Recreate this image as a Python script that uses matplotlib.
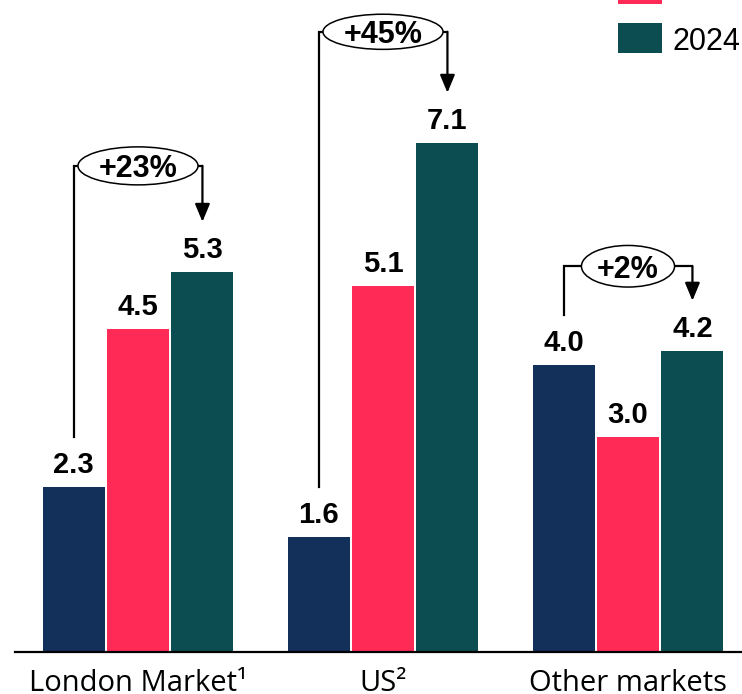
import matplotlib
matplotlib.use("Agg")
import matplotlib.pyplot as plt
from matplotlib.patches import Ellipse, Rectangle
import numpy as np

# ---- data -------------------------------------------------------------
categories = ["London Market\u00b9", "US\u00b2", "Other markets"]
years = ["2020", "2023", "2024"]
values_2020 = [2.3, 1.6, 4.0]
values_2023 = [4.5, 5.1, 3.0]
values_2024 = [5.3, 7.1, 4.2]
growth_labels = ["+23%", "+45%", "+2%"]

# ---- styling / layout -------------------------------------------------
colors = ["#13305B", "#FF2A55", "#0C4D52"]
bracket_levels = [6.78, 8.65, 5.38]       # height of each growth bracket
ellipse_w = [0.49, 0.49, 0.38]
ellipse_h = [0.53, 0.49, 0.58]
gap = 0.7                                  # space between bar top and bracket end

W, H, DPI = 742, 694, 100
fig = plt.figure(figsize=(W / DPI, H / DPI), dpi=DPI)
ax_left, ax_bottom = 15 / W, (H - 652) / H
ax = fig.add_axes([ax_left, ax_bottom, 1 - ax_left, 717 / H])

series = [values_2020, values_2023, values_2024]
x = np.arange(len(categories))
step, width = 0.263, 0.253
offsets = [-step, 0, step]

for vals, off, col, yr in zip(series, offsets, colors, years):
    ax.bar(x + off, vals, width=width, color=col, label=yr, zorder=2)
    for xi, v in zip(x, vals):
        ax.annotate(f"{v:.1f}", (xi + off, v), xytext=(0, 6),
                    textcoords="offset points", ha="center", va="bottom",
                    fontsize=21, fontweight="bold", family="Liberation Sans",
                    color="black")

# growth brackets: left start above first bar, arrow into last bar
for i in range(len(categories)):
    xa, xb = x[i] + offsets[0], x[i] + offsets[2]
    lvl = bracket_levels[i]
    ax.plot([xa, xa, xb], [values_2020[i] + gap, lvl, lvl],
            color="black", lw=1.6, zorder=3, solid_joinstyle="miter")
    ax.annotate("", xy=(xb, values_2024[i] + gap), xytext=(xb, lvl),
                arrowprops=dict(arrowstyle="-|>,head_length=0.6,head_width=0.25",
                                mutation_scale=18, color="black", lw=1.6,
                                shrinkA=0, shrinkB=0), zorder=3)
    ax.add_patch(Ellipse((x[i], lvl), ellipse_w[i], ellipse_h[i],
                         facecolor="white", edgecolor="black", lw=1.1, zorder=4))
    ax.text(x[i], lvl, growth_labels[i], ha="center", va="center_baseline",
            fontsize=22, fontweight="bold", family="Liberation Sans", zorder=5)

ax.set_xlim((15 - 138) / 245, (742 - 138) / 245)
ax.set_ylim(0, 10)
ax.set_xticks(x)
ax.set_xticklabels(categories, fontsize=21, family="Open Sans")
ax.tick_params(axis="x", length=0, pad=12)
ax.set_yticks([])
for s in ["top", "left", "right"]:
    ax.spines[s].set_visible(False)
ax.spines["bottom"].set_linewidth(1.6)
ax.spines["bottom"].set_zorder(5)

# legend drawn in figure pixels (origin top-left), stacked upward from the last year
def to_fig(px, py):
    return px / W, 1 - py / H

patch_left, patch_w, patch_h, row = 618, 44, 30, 49
last_top = 23
for k, (yr, col) in enumerate(zip(years, colors)):
    top = last_top - (len(years) - 1 - k) * row
    x0, y0 = to_fig(patch_left, top + patch_h)
    fig.patches.append(Rectangle((x0, y0), patch_w / W, patch_h / H,
                                 transform=fig.transFigure, facecolor=col,
                                 edgecolor="none"))
    tx, ty = to_fig(673, top + patch_h / 2)
    fig.text(tx, ty, yr, ha="left", va="center_baseline", fontsize=22,
             family="Liberation Sans", color="black")

fig.savefig("out.png", dpi=DPI)
